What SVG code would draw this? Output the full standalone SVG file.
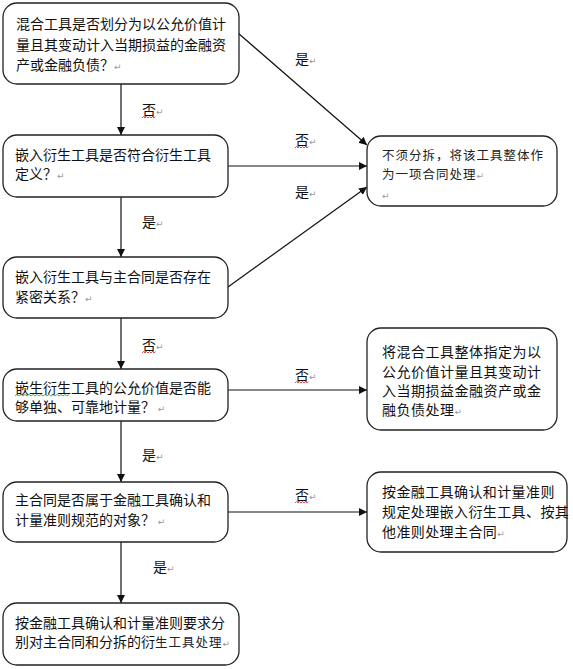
<svg xmlns="http://www.w3.org/2000/svg" width="573" height="669" viewBox="0 0 573 669">
<defs>
<style>
.box{fill:#fff;stroke:#222;stroke-width:1.3}
.t{font-family:"Noto Sans CJK SC","Liberation Sans",sans-serif;font-size:14px;fill:#111}
.ts{font-family:"Noto Sans CJK SC","Liberation Sans",sans-serif;font-size:12.5px;fill:#222;letter-spacing:1px}
.lb{font-family:"Noto Sans CJK SC","Liberation Sans",sans-serif;font-size:14px;fill:#111}
.pm{font-family:"DejaVu Sans",sans-serif;font-size:9px;fill:#999;letter-spacing:0}
.ln{stroke:#111;stroke-width:1.2;fill:none}
.sq{stroke:#e02020;stroke-width:0.8;fill:none}
.sqg{stroke:#2a9a2a;stroke-width:0.8;fill:none}
</style>
<marker id="ah" viewBox="0 0 10 10" refX="10" refY="5" markerWidth="8" markerHeight="8" markerUnits="userSpaceOnUse" orient="auto">
<path d="M0,0 L10,5 L0,10 z" fill="#111"/>
</marker>
</defs>
<rect width="573" height="669" fill="#fff"/>
<g id="connectors">
<line class="ln" x1="121" y1="84" x2="121" y2="135" marker-end="url(#ah)"/>
<line class="ln" x1="121" y1="197" x2="121" y2="257" marker-end="url(#ah)"/>
<line class="ln" x1="121" y1="318" x2="121" y2="369" marker-end="url(#ah)"/>
<line class="ln" x1="121" y1="421" x2="121" y2="482" marker-end="url(#ah)"/>
<line class="ln" x1="121" y1="542" x2="121" y2="603" marker-end="url(#ah)"/>
<line class="ln" x1="238" y1="33" x2="367" y2="145" marker-end="url(#ah)"/>
<line class="ln" x1="228" y1="166" x2="367" y2="166" marker-end="url(#ah)"/>
<line class="ln" x1="228" y1="287" x2="367" y2="187" marker-end="url(#ah)"/>
<line class="ln" x1="228" y1="390" x2="367" y2="390" marker-end="url(#ah)"/>
<line class="ln" x1="228" y1="512" x2="367" y2="512" marker-end="url(#ah)"/>
<g id="labels">
<text class="lb" x="142" y="115">否<tspan class="pm">↵</tspan></text>
<text class="lb" x="142" y="227">是<tspan class="pm">↵</tspan></text>
<text class="lb" x="142" y="350">否<tspan class="pm">↵</tspan></text>
<text class="lb" x="142" y="460">是<tspan class="pm">↵</tspan></text>
<text class="lb" x="153" y="572">是<tspan class="pm">↵</tspan></text>
<text class="lb" x="295" y="64">是<tspan class="pm">↵</tspan></text>
<text class="lb" x="295" y="145">否<tspan class="pm">↵</tspan></text>
<text class="lb" x="295" y="197">是<tspan class="pm">↵</tspan></text>
<text class="lb" x="295" y="380">否<tspan class="pm">↵</tspan></text>
<text class="lb" x="295" y="500">否<tspan class="pm">↵</tspan></text>
<path class="sq" d="M142,118 l1.5,-1.5 l1.5,1.5 l1.5,-1.5 l1.5,1.5 l1.5,-1.5 l1.5,1.5 l1.5,-1.5 l1.5,1.5 l1.5,-1.5"/>
<path class="sq" d="M142,353 l1.5,-1.5 l1.5,1.5 l1.5,-1.5 l1.5,1.5 l1.5,-1.5 l1.5,1.5 l1.5,-1.5 l1.5,1.5 l1.5,-1.5"/>
<path class="sq" d="M295,148 l1.5,-1.5 l1.5,1.5 l1.5,-1.5 l1.5,1.5 l1.5,-1.5 l1.5,1.5 l1.5,-1.5 l1.5,1.5 l1.5,-1.5"/>
<path class="sq" d="M295,383 l1.5,-1.5 l1.5,1.5 l1.5,-1.5 l1.5,1.5 l1.5,-1.5 l1.5,1.5 l1.5,-1.5 l1.5,1.5 l1.5,-1.5"/>
<path class="sq" d="M295,503 l1.5,-1.5 l1.5,1.5 l1.5,-1.5 l1.5,1.5 l1.5,-1.5 l1.5,1.5 l1.5,-1.5 l1.5,1.5 l1.5,-1.5"/>
</g>
</g>
<g id="n1">
<rect class="box" x="3" y="3" width="236" height="81" rx="14"/>
<text class="t" x="16" y="29">混合工具是否划分为以公允价值计</text>
<text class="t" x="16" y="50">量且其变动计入当期损益的金融资</text>
<text class="t" x="16" y="70">产或金融负债？<tspan class="pm">↵</tspan></text>
</g>
<g id="n2">
<rect class="box" x="3" y="135" width="225" height="62" rx="14"/>
<text class="t" x="15" y="160">嵌入衍生工具是否符合衍生工具</text>
<text class="t" x="15" y="179">定义？<tspan class="pm">↵</tspan></text>
</g>
<g id="n3">
<rect class="box" x="3" y="257" width="225" height="61" rx="14"/>
<text class="t" x="15" y="282">嵌入衍生工具与主合同是否存在</text>
<text class="t" x="15" y="302">紧密关系？<tspan class="pm">↵</tspan></text>
</g>
<g id="n4">
<rect class="box" x="3" y="369" width="225" height="52" rx="14"/>
<text class="t" x="15" y="393">嵌生衍生工具的公允价值是否能</text>
<text class="t" x="15" y="412">够单独、可靠地计量？<tspan class="pm"> ↵</tspan></text>
<path class="sqg" d="M15,396 l2,-1.5 l2,1.5 l2,-1.5 l2,1.5 l2,-1.5 l2,1.5 l2,-1.5 l2,1.5 l2,-1.5 l2,1.5 l2,-1.5 l2,1.5 l2,-1.5 l2,1.5 l2,-1.5 l2,1.5 l2,-1.5 l2,1.5 l2,-1.5 l2,1.5 l2,-1.5 l2,1.5 l2,-1.5 l2,1.5 l2,-1.5 l2,1.5 l2,-1.5"/>
</g>
<g id="n5">
<rect class="box" x="3" y="482" width="225" height="60" rx="14"/>
<text class="t" x="15" y="505">主合同是否属于金融工具确认和</text>
<text class="t" x="15" y="525">计量准则规范的对象？<tspan class="pm"> ↵</tspan></text>
</g>
<g id="n6">
<rect class="box" x="3" y="603" width="236" height="62" rx="14"/>
<text class="t" x="15" y="628">按金融工具确认和计量准则要求分</text>
<text class="t" x="15" y="647">别对主合同和分拆的衍<tspan font-size="12.5" letter-spacing="1" fill="#223">生工具处理</tspan><tspan class="pm">↵</tspan></text>
</g>
<g id="nA">
<rect class="box" x="367" y="136" width="190" height="70" rx="14"/>
<text class="ts" x="382" y="160">不须分拆，将该工具整体作</text>
<text class="ts" x="382" y="179">为一项合同处理<tspan class="pm">↵</tspan></text>
<text class="ts" x="382" y="199"><tspan class="pm">↵</tspan></text>
</g>
<g id="nB">
<rect class="box" x="367" y="328" width="190" height="102" rx="14"/>
<text class="t" x="382" y="357" letter-spacing="0.5">将混合工具整体指定为以</text>
<text class="t" x="382" y="377" letter-spacing="0.5">公允价值计量且其变动计</text>
<text class="t" x="382" y="396" letter-spacing="0.5">入当期损益金融资产或金</text>
<text class="t" x="382" y="415" letter-spacing="0.5">融负债处理<tspan class="pm">↵</tspan></text>
</g>
<g id="nC">
<rect class="box" x="367" y="472" width="200" height="80" rx="14"/>
<text class="t" x="382" y="497" letter-spacing="0.4">按金融工具确认和计量准则</text>
<text class="t" x="382" y="517" letter-spacing="0.4">规定处理嵌入衍生工具、按其</text>
<text class="t" x="382" y="537" letter-spacing="0.4">他准则处理主合同<tspan class="pm">↵</tspan></text>
</g>
</svg>
